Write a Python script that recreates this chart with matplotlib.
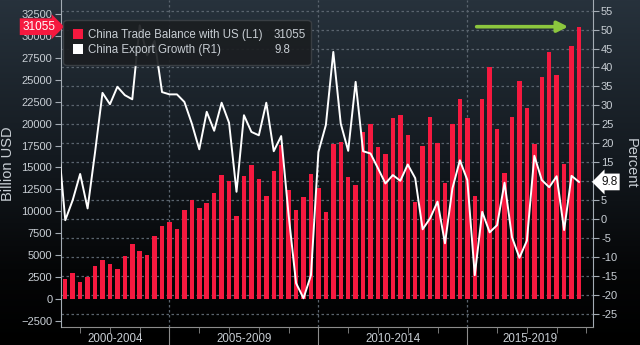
"""Торговый баланс Китая с США и рост экспорта Китая"""

import matplotlib
matplotlib.use("Agg")
import matplotlib.pyplot as plt
import numpy as np
from matplotlib.colors import LinearSegmentedColormap
from matplotlib.patches import Patch

plt.rcParams['font.family'] = ['Liberation Sans', 'DejaVu Sans']

# первый квартал ряда торгового баланса (точка ставится на конец квартала)
first_year = 2001
first_quarter = 2

# торговый баланс Китая с США, млрд долл. (левая ось)
trade_balance = [
    2240, 2920, 1900, 2540, 3710, 4430, 4010, 3410, 4920, 6330,
    5450, 5070, 7230, 8370, 8780, 7950, 10110, 11250, 10420, 10900,
    12120, 14160, 13440, 9460, 14010, 15340, 13630, 11700, 14650, 17610,
    12420, 10190, 11590, 14240, 12610, 9920, 17690, 17950, 13940, 13030,
    19090, 19910, 17380, 16550, 20600, 21020, 18660, 11050, 17460, 20790,
    17760, 13210, 19910, 22830, 20640, 11700, 22830, 26470, 19430, 14350,
    20710, 24880, 21730, 17690, 25370, 28210, 25560, 15450, 28890, 31055,
]

# рост экспорта Китая, % (правая ось), начинается на квартал раньше
export_growth = [
    21.7,
    -0.3, 5.0, 11.9, 2.8, 17.6, 33.3, 30.3, 34.9, 32.7, 31.6,
    51.1, 43.2, 47.0, 33.5, 32.9, 32.9, 30.9, 25.2, 18.4, 28.3,
    23.3, 30.7, 25.4, 7.2, 27.4, 23.0, 22.1, 30.7, 17.9, 21.9,
    1.0, -16.9, -20.9, -14.8, 17.7, 24.8, 44.1, 25.2, 18.0, 36.2,
    17.9, 17.3, 13.4, 9.4, 11.6, 10.1, 14.4, 10.8, -2.7, 0.2,
    4.6, -6.4, 8.1, 15.5, 10.3, -14.8, 1.9, -3.5, -1.6, 9.6,
    -4.8, -10.2, -5.7, 16.7, 10.3, 8.4, 11.3, -2.9, 11.4, 9.8,
]

series_names = ["China Trade Balance with US (L1)", "China Export Growth (R1)"]
periods = ["2000-2004", "2005-2009", "2010-2014", "2015-2019"]
period_starts = [2000, 2005, 2010, 2015]
left_ticks = list(range(-2500, 32501, 2500))
right_ticks = list(range(-25, 56, 5))

RED = '#f5193f'
GRID = '#5a646e'
TEXT = '#c8ced4'
SPINE = '#a4acb4'

# позиции кварталов на оси времени
start = first_year + first_quarter * 0.25
x_bars = start + 0.25 * np.arange(len(trade_balance))
x_line = start - 0.25 + 0.25 * np.arange(len(export_growth))
x_min, x_max = 2001.346, 2019.21

fig = plt.figure(figsize=(6.4, 3.45), dpi=100)

# фон: градиент сверху вниз
bg = fig.add_axes([0, 0, 1, 1], zorder=0)
cmap = LinearSegmentedColormap.from_list(
    'bg', [(0, '#27323c'), (0.45, '#141a20'), (0.78, '#050607'), (1, '#000000')])
bg.imshow(np.linspace(0, 1, 256).reshape(-1, 1), aspect='auto', cmap=cmap, extent=[0, 1, 0, 1])
bg.axis('off')

pos = [0.0948, 0.053, 0.8313, 0.947]
ax_r = fig.add_axes(pos, zorder=1)     # правая шкала и сетка
ax_l = fig.add_axes(pos, zorder=2)     # столбцы, левая шкала
ax_line = fig.add_axes(pos, zorder=3)  # линия поверх столбцов
for a in (ax_r, ax_l, ax_line):
    a.patch.set_visible(False)
    a.set_xlim(x_min, x_max)
    for s in a.spines.values():
        s.set_visible(False)

# правая ось, сетка, ось времени
ax_r.set_ylim(-28.4, 57.8)
ax_r.yaxis.tick_right()
# подпись 10 закрыта меткой последнего значения
ax_r.set_yticks(right_ticks, ['' if t == 10 else str(t) for t in right_ticks])
ax_r.spines['right'].set_visible(True)
ax_r.spines['right'].set_color(SPINE)
ax_r.spines['bottom'].set_visible(True)
ax_r.spines['bottom'].set_color('#8c8c8c')
ax_r.tick_params(axis='y', colors=SPINE, labelcolor=TEXT, labelsize=8, length=4, pad=2)
ax_r.set_xticks(period_starts[1:])
ax_r.set_xticks(range(2002, 2020), minor=True)
ax_r.tick_params(axis='x', which='major', length=18, color='#8c8c8c', labelbottom=False)
ax_r.tick_params(axis='x', which='minor', length=4, color='#8c8c8c')
ax_r.grid(True, which='major', color=GRID, linestyle=(0, (2, 2)), linewidth=0.9)
ax_r.set_ylabel('Percent', rotation=270, color=TEXT, fontsize=10.5)
ax_r.yaxis.set_label_coords(1.058, 0.5)
ax_r.yaxis.label.set_verticalalignment('bottom')

centers = [(max(p, x_min) + min(p + 5, x_max)) / 2 for p in period_starts]
sec = ax_r.secondary_xaxis('bottom')
sec.set_xticks(centers, periods)
sec.tick_params(length=0, pad=4.5, labelsize=8.3, labelcolor=TEXT)
sec.spines['bottom'].set_visible(False)

# столбцы торгового баланса
ax_l.bar(x_bars, trade_balance, width=0.15, color=RED, zorder=2)
ax_l.set_ylim(-3159, 34100)
ax_l.set_yticks(left_ticks)
ax_l.spines['left'].set_visible(True)
ax_l.spines['left'].set_color(SPINE)
ax_l.tick_params(axis='y', colors=SPINE, labelcolor=TEXT, labelsize=8, length=4, pad=2)
ax_l.tick_params(axis='x', bottom=False, labelbottom=False)
ax_l.set_ylabel('Billion USD', color=TEXT, fontsize=10.5)
ax_l.yaxis.set_label_coords(-0.086, 0.5)

# метка последнего значения слева
ax_l.annotate(f"{trade_balance[-1]}", xy=(0, trade_balance[-1]),
              xycoords=('axes fraction', 'data'), xytext=(-4, 0), textcoords='offset points',
              ha='right', va='center', color='white', fontsize=8.5,
              bbox=dict(boxstyle='rarrow,pad=0.2', fc=RED, ec='none'), annotation_clip=False)

# зелёная стрелка к последнему столбцу
ax_l.annotate('', xy=(x_bars[-1] - 0.27, trade_balance[-1]),
              xytext=(x_bars[-1] - 3.53, trade_balance[-1]),
              arrowprops=dict(arrowstyle='-|>', color='#8cc63e', lw=2.6, mutation_scale=16))

# линия роста экспорта
ax_line.plot(x_line, export_growth, color='white', linewidth=1.4)
ax_line.set_ylim(-28.4, 57.8)
ax_line.set_xticks([])
ax_line.set_yticks([])

ax_line.annotate(f"{export_growth[-1]}", xy=(1, export_growth[-1]),
                 xycoords=('axes fraction', 'data'), xytext=(6, 0), textcoords='offset points',
                 ha='left', va='center', color='#111111', fontsize=8.5,
                 bbox=dict(boxstyle='larrow,pad=0.2', fc='white', ec='none'), annotation_clip=False)

# легенда с последними значениями
handles = [Patch(facecolor=RED), Patch(facecolor='white')]
leg = ax_line.legend(handles, series_names, loc='upper left', bbox_to_anchor=(0.005, 0.811, 0.465, 0.128),
                     mode='expand', fontsize=8.3, labelcolor=TEXT, frameon=True,
                     facecolor='#1b1e21', edgecolor='#3c4146', framealpha=0.92,
                     handlelength=0.9, handleheight=0.9, handletextpad=0.45,
                     borderpad=0.8, labelspacing=0.25, borderaxespad=0)
leg.get_frame().set_boxstyle('round,pad=0,rounding_size=0.3')
leg.set_zorder(5)

# значения ставим по строкам легенды
fig.canvas.draw()
to_axes = ax_line.transAxes.inverted()
for val, txt in zip([trade_balance[-1], export_growth[-1]], leg.get_texts()):
    bb = txt.get_window_extent()
    y = to_axes.transform((0, (bb.y0 + bb.y1) / 2))[1]
    ax_line.text(0.401, y, f"{val}", transform=ax_line.transAxes, ha='left', va='center',
                 color=TEXT, fontsize=8.3, zorder=6)

fig.savefig('out.png', dpi=100)
